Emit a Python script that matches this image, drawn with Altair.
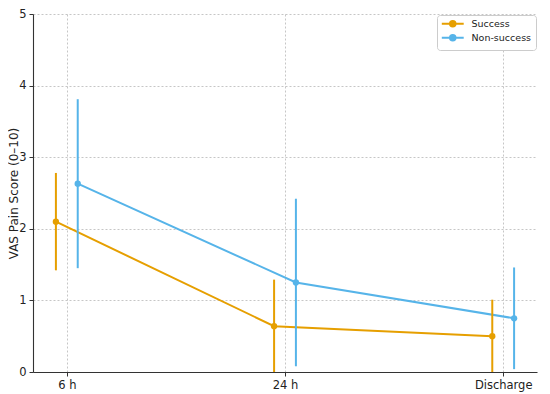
import altair as alt
import pandas as pd

times = ["6 h", "24 h", "Discharge"]
groups = ["Success", "Non-success"]
success_mean = [2.10, 0.64, 0.50]
success_sd = [0.68, 0.65, 0.51]
non_mean = [2.63, 1.25, 0.75]
non_sd = [1.18, 1.17, 0.71]
offsets = {"Success": -0.05, "Non-success": 0.05}
colors = ["#E69F00", "#56B4E9"]

rows = []
for g, means, sds in [("Success", success_mean, success_sd), ("Non-success", non_mean, non_sd)]:
    for i, (m, s) in enumerate(zip(means, sds)):
        rows.append({"group": g, "order": i, "x": i + offsets[g], "mean": m,
                     "lo": m - s, "hi": m + s})
df = pd.DataFrame(rows)

label_expr = "datum.value == 0 ? '6 h' : datum.value == 1 ? '24 h' : datum.value == 2 ? 'Discharge' : ''"

xenc = alt.X("x:Q", scale=alt.Scale(domain=[-0.155, 2.155], nice=False, zero=False),
             axis=alt.Axis(values=[0, 1, 2], labelExpr=label_expr, title=None))
yscale = alt.Scale(domain=[0, 5], nice=False)
color_scale = alt.Scale(domain=groups, range=colors)

legend_path = ("M-4,0H4M0,-1.3V1.3"
               "M-1,0A1,1 0 1,1 1,0A1,1 0 1,1 -1,0"
               "M-0.3,0A0.3,0.3 0 1,1 0.3,0A0.3,0.3 0 1,1 -0.3,0")

base = alt.Chart(df)

lines = base.mark_line(strokeWidth=2, clip=True).encode(
    x=xenc,
    y=alt.Y("mean:Q", scale=yscale,
            axis=alt.Axis(values=[0, 1, 2, 3, 4, 5], format="d",
                          title="VAS Pain Score (0–10)", titleX=-20,
                          titleBaseline="middle")),
    color=alt.Color("group:N", scale=color_scale, sort=groups,
                    legend=alt.Legend(title=None, orient="none", legendX=404, legendY=1,
                                      symbolType=legend_path, symbolSize=30,
                                      symbolStrokeWidth=2, symbolOffset=7,
                                      labelOffset=14, rowPadding=-2,
                                      labelFontSize=9.5, labelFont="DejaVu Sans",
                                      labelColor="#222", padding=4,
                                      strokeColor="#cccccc", fillColor="white",
                                      cornerRadius=3)),
    detail="group:N",
    order="order:Q",
)

errs = base.mark_rule(strokeWidth=2, clip=True).encode(
    x=xenc,
    y=alt.Y("lo:Q", scale=yscale),
    y2="hi:Q",
    color=alt.Color("group:N", scale=color_scale, legend=None),
)

points = base.mark_circle(size=40, opacity=1, clip=True).encode(
    x=xenc,
    y=alt.Y("mean:Q", scale=yscale),
    color=alt.Color("group:N", scale=color_scale, legend=None),
)

chart = alt.layer(lines, errs, points).properties(
    width=504, height=358,
    autosize=alt.AutoSizeParams(type="none"),
    padding={"left": 25, "top": 6, "right": 5, "bottom": 22},
).configure_view(stroke=None).configure_axis(
    labelFont="DejaVu Sans", titleFont="DejaVu Sans",
    labelFontSize=11.5, titleFontSize=12, titleFontWeight="normal",
    labelColor="#222", titleColor="#222",
    domainColor="#333", domainWidth=1.1,
    tickColor="#333", tickSize=4, tickWidth=1,
    grid=True, gridColor="#b8b8b8", gridDash=[2, 2], gridWidth=0.8,
    labelPadding=3,
)

chart.save("out.html", embed_options={"renderer": "svg", "actions": False})
